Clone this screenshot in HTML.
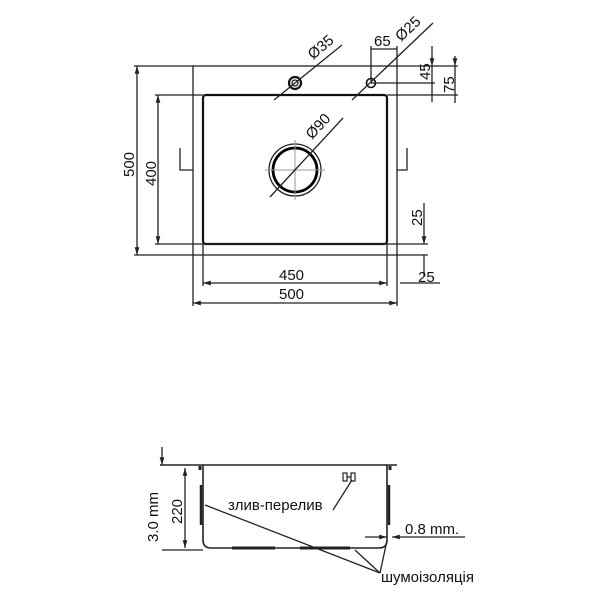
<!DOCTYPE html>
<html><head><meta charset="utf-8"><style>
html,body{margin:0;padding:0;background:#fff;}
svg{display:block;}
text{font-family:"Liberation Sans","DejaVu Sans",sans-serif;fill:#111;}
</style></head><body>
<svg width="600" height="600" viewBox="0 0 600 600" xmlns="http://www.w3.org/2000/svg">
<defs>
<marker id="a" viewBox="0 0 10 10" refX="10" refY="5" markerWidth="6" markerHeight="6" orient="auto-start-reverse"><path d="M0,2 L10,5 L0,8z" fill="#222"/></marker>
</defs>
<g stroke="#222" fill="none" stroke-width="1.3">
<rect x="193" y="66" width="204" height="189"/>
<rect x="203" y="95" width="184" height="149" rx="3" stroke="#111" stroke-width="2.2"/>
<line x1="134" y1="66" x2="193" y2="66"/>
<line x1="134" y1="255" x2="193" y2="255"/>
<line x1="155" y1="95" x2="203" y2="95"/>
<line x1="155" y1="244" x2="428" y2="244"/>
<line x1="397" y1="255" x2="428" y2="255"/>
<line x1="193" y1="255" x2="193" y2="306"/>
<line x1="397" y1="255" x2="397" y2="306"/>
<line x1="203" y1="244" x2="203" y2="286"/>
<line x1="387" y1="244" x2="387" y2="286"/>
<line x1="397" y1="66" x2="458" y2="66"/>
<line x1="387" y1="95" x2="458" y2="95"/>
<line x1="371" y1="83" x2="435" y2="83"/>
<line x1="371" y1="46" x2="371" y2="83"/>
<line x1="397" y1="46" x2="397" y2="66"/>
<line x1="137" y1="66" x2="137" y2="255" marker-start="url(#a)" marker-end="url(#a)"/>
<line x1="158" y1="95" x2="158" y2="244" marker-start="url(#a)" marker-end="url(#a)"/>
<line x1="203" y1="283" x2="387" y2="283" marker-start="url(#a)" marker-end="url(#a)"/>
<line x1="193" y1="303" x2="397" y2="303" marker-start="url(#a)" marker-end="url(#a)"/>
<line x1="371" y1="49" x2="397" y2="49"/>
<line x1="432" y1="46" x2="432" y2="66" marker-end="url(#a)"/>
<line x1="432" y1="66" x2="432" y2="102"/>
<line x1="455" y1="56" x2="455" y2="66" marker-end="url(#a)"/>
<line x1="455" y1="66" x2="455" y2="103"/>
<line x1="424" y1="203" x2="424" y2="244" marker-end="url(#a)"/>
<line x1="424" y1="255" x2="424" y2="276"/>
<line x1="400" y1="283" x2="440" y2="283"/>
<polyline points="180,148 180,170 193,170"/>
<polyline points="407,148 407,170 397,170"/>
<circle cx="295" cy="83" r="6" stroke="#111" stroke-width="2.2"/>
<circle cx="295" cy="83" r="3"/>
<circle cx="371" cy="83" r="4.5" stroke="#111" stroke-width="1.6"/>
<circle cx="295" cy="170" r="26"/>
<circle cx="295" cy="170" r="22" stroke="#000" stroke-width="2.8"/>
<line x1="265" y1="170" x2="325" y2="170" stroke="#999" stroke-width="1"/>
<line x1="295" y1="140" x2="295" y2="200" stroke="#999" stroke-width="1"/>
<line x1="274" y1="100" x2="342" y2="45"/>
<line x1="352" y1="100" x2="433" y2="23"/>
<line x1="270" y1="197" x2="343" y2="118"/>
</g>
<g font-size="15">
<text x="313" y="60" transform="rotate(-40 313 60)">Ø35</text>
<text x="401" y="42" transform="rotate(-43 401 42)">Ø25</text>
<text x="312" y="140" transform="rotate(-47 312 140)">Ø90</text>
<text x="374" y="46">65</text>
<text x="430" y="80" transform="rotate(-90 430 80)">45</text>
<text x="454" y="93" transform="rotate(-90 454 93)">75</text>
<text x="134" y="177" transform="rotate(-90 134 177)">500</text>
<text x="156" y="186" transform="rotate(-90 156 186)">400</text>
<text x="422" y="226" transform="rotate(-90 422 226)">25</text>
<text x="279" y="280">450</text>
<text x="279" y="299">500</text>
<text x="418" y="282">25</text>
</g>
<g stroke="#222" fill="none" stroke-width="1.3">
<line x1="160" y1="465" x2="397" y2="465" stroke-width="1.6"/>
<path d="M203,465 V540 Q203,548 211,548 H379 Q387,548 387,540 V465" stroke-width="1.6"/>
<line x1="200" y1="466" x2="200" y2="470" stroke-width="3"/>
<line x1="390" y1="466" x2="390" y2="470" stroke-width="3"/>
<line x1="201" y1="485" x2="201" y2="525" stroke-width="2.5"/>
<line x1="389" y1="485" x2="389" y2="525" stroke-width="2.5"/>
<line x1="232" y1="548" x2="275" y2="548" stroke-width="3"/>
<line x1="300" y1="548" x2="350" y2="548" stroke-width="3"/>
<line x1="162" y1="550" x2="203" y2="550"/>
<line x1="162" y1="447" x2="162" y2="465" marker-end="url(#a)"/>
<line x1="185" y1="468" x2="185" y2="548" marker-start="url(#a)" marker-end="url(#a)"/>
<line x1="333" y1="510" x2="352" y2="480"/>
<line x1="365" y1="537" x2="387" y2="537" marker-end="url(#a)"/>
<line x1="410" y1="537" x2="392" y2="537" marker-end="url(#a)"/>
<line x1="410" y1="537" x2="465" y2="537"/>
<line x1="380" y1="573" x2="205" y2="505"/>
<line x1="380" y1="573" x2="355" y2="550"/>
<line x1="380" y1="573" x2="386" y2="545"/>
<rect x="343" y="473" width="4" height="8" stroke-width="1.2"/>
<rect x="351" y="473" width="4" height="8" stroke-width="1.2"/>
<line x1="347" y1="477" x2="351" y2="477"/>
</g>
<g font-size="15">
<text x="158" y="542" transform="rotate(-90 158 542)">3.0 mm</text>
<text x="182" y="524" transform="rotate(-90 182 524)">220</text>
<text x="228" y="510">злив-перелив</text>
<text x="405" y="534">0.8 mm.</text>
<text x="381" y="582">шумоізоляція</text>
</g>
</svg>
</body></html>
